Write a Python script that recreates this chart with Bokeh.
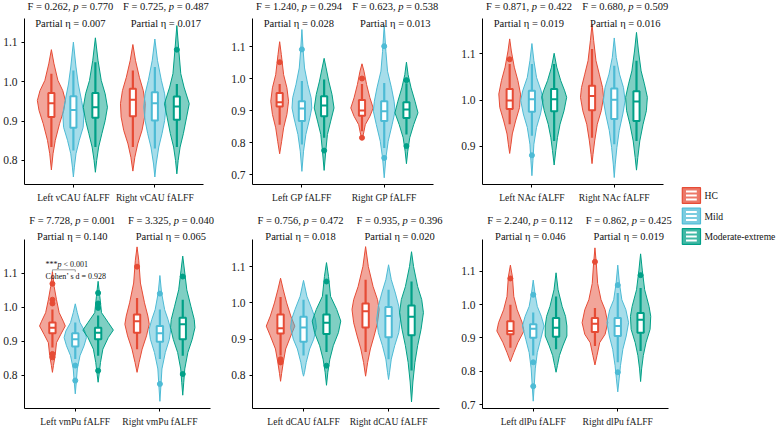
from bokeh.plotting import figure
from bokeh.layouts import row, column
from bokeh.models import Range1d, FixedTicker, NumeralTickFormatter
from bokeh.core.properties import value
from bokeh.embed import file_html
from bokeh.resources import INLINE

# ---------------- data ----------------
GROUPS = ["HC", "Mild", "Moderate-extreme"]
COLORS = ["#E64B35", "#4DBBD5", "#00A087"]

REGIONS = [
    ["Left vCAU fALFF", "Right vCAU fALFF"],
    ["Left GP fALFF", "Right GP fALFF"],
    ["Left NAc fALFF", "Right NAc fALFF"],
    ["Left vmPu fALFF", "Right vmPu fALFF"],
    ["Left dCAU fALFF", "Right dCAU fALFF"],
    ["Left dlPu fALFF", "Right dlPu fALFF"],
]
F_VALUES = [["0.262", "0.725"], ["1.240", "0.623"], ["0.871", "0.680"],
            ["7.728", "3.325"], ["0.756", "0.935"], ["2.240", "0.862"]]
P_VALUES = [["0.770", "0.487"], ["0.294", "0.538"], ["0.422", "0.509"],
            ["0.001", "0.040"], ["0.472", "0.396"], ["0.112", "0.425"]]
ETA_VALUES = [["0.007", "0.017"], ["0.028", "0.013"], ["0.019", "0.016"],
              ["0.140", "0.065"], ["0.018", "0.020"], ["0.046", "0.019"]]
Y_TICKS = [[0.8, 0.9, 1.0, 1.1], [0.7, 0.8, 0.9, 1.0, 1.1], [0.9, 1.0, 1.1],
           [0.8, 0.9, 1.0, 1.1], [0.8, 0.9, 1.0, 1.1], [0.7, 0.8, 0.9, 1.0, 1.1]]

# violin outlines: knots (value, half-width) per violin,
# order in each panel: Left HC, Left Mild, Left Mod-ext, Right HC, Right Mild, Right Mod-ext
VIOLIN_Y = [
    [[0.776, 0.817, 0.851, 0.893, 0.927, 0.952, 0.977, 1.003, 1.045, 1.081],
     [0.758, 0.783, 0.817, 0.851, 0.884, 0.918, 0.952, 0.994, 1.037, 1.100],
     [0.770, 0.800, 0.834, 0.868, 0.901, 0.935, 0.969, 1.003, 1.054, 1.111],
     [0.773, 0.808, 0.842, 0.876, 0.910, 0.944, 0.977, 1.011, 1.054, 1.094],
     [0.758, 0.791, 0.834, 0.868, 0.901, 0.935, 0.969, 1.003, 1.054, 1.108],
     [0.766, 0.800, 0.834, 0.868, 0.910, 0.944, 0.986, 1.020, 1.079, 1.142]],
    [[0.765, 0.804, 0.846, 0.888, 0.929, 0.971, 1.012, 1.075, 1.115],
     [0.710, 0.773, 0.825, 0.877, 0.908, 0.940, 0.981, 1.033, 1.085, 1.153],
     [0.713, 0.773, 0.825, 0.867, 0.908, 0.950, 0.992, 1.033, 1.063],
     [0.809, 0.830, 0.856, 0.882, 0.908, 0.940, 0.981, 1.023, 1.046],
     [0.690, 0.752, 0.804, 0.856, 0.898, 0.929, 0.971, 1.023, 1.085, 1.167],
     [0.734, 0.773, 0.815, 0.856, 0.893, 0.929, 0.971, 1.012, 1.051]],
    [[0.885, 0.905, 0.927, 0.955, 0.984, 1.013, 1.042, 1.071, 1.106, 1.132],
     [0.837, 0.869, 0.905, 0.941, 0.970, 0.999, 1.020, 1.049, 1.085, 1.122],
     [0.860, 0.891, 0.919, 0.948, 0.977, 1.006, 1.020, 1.042, 1.071, 1.101],
     [0.863, 0.883, 0.912, 0.948, 0.977, 1.006, 1.027, 1.056, 1.085, 1.128, 1.163],
     [0.833, 0.862, 0.898, 0.934, 0.970, 0.999, 1.027, 1.056, 1.092, 1.134],
     [0.849, 0.876, 0.912, 0.948, 0.977, 1.006, 1.035, 1.063, 1.106, 1.146]],
    [[0.809, 0.829, 0.858, 0.896, 0.921, 0.945, 0.959, 0.984, 1.022, 1.061, 1.105],
     [0.746, 0.780, 0.819, 0.858, 0.887, 0.911, 0.930, 0.955, 0.984, 1.010],
     [0.780, 0.804, 0.838, 0.877, 0.911, 0.933, 0.955, 0.984, 1.032, 1.076],
     [0.809, 0.838, 0.877, 0.916, 0.950, 0.974, 1.013, 1.071, 1.138, 1.177],
     [0.724, 0.770, 0.819, 0.867, 0.906, 0.935, 0.964, 0.993, 1.042, 1.093],
     [0.742, 0.780, 0.819, 0.867, 0.906, 0.940, 0.964, 1.003, 1.051, 1.109, 1.150]],
    [[0.784, 0.805, 0.836, 0.873, 0.909, 0.936, 0.964, 1.000, 1.036, 1.068],
     [0.798, 0.809, 0.836, 0.873, 0.900, 0.932, 0.955, 0.982, 1.018, 1.062],
     [0.773, 0.809, 0.845, 0.882, 0.918, 0.950, 0.982, 1.018, 1.073, 1.111],
     [0.798, 0.836, 0.873, 0.909, 0.945, 0.982, 1.009, 1.045, 1.100, 1.155],
     [0.789, 0.809, 0.845, 0.882, 0.918, 0.955, 0.991, 1.027, 1.064, 1.105],
     [0.727, 0.782, 0.836, 0.882, 0.927, 0.973, 1.009, 1.045, 1.100, 1.141]],
    [[0.829, 0.856, 0.886, 0.921, 0.946, 0.985, 1.025, 1.084, 1.119],
     [0.710, 0.757, 0.807, 0.856, 0.896, 0.936, 0.965, 0.995, 1.035, 1.074],
     [0.797, 0.817, 0.847, 0.876, 0.906, 0.936, 0.965, 0.995, 1.045, 1.096],
     [0.819, 0.847, 0.886, 0.911, 0.946, 0.985, 1.015, 1.064, 1.124, 1.171],
     [0.738, 0.777, 0.817, 0.866, 0.906, 0.946, 0.985, 1.015, 1.064, 1.119],
     [0.769, 0.807, 0.847, 0.886, 0.926, 0.965, 0.995, 1.045, 1.104, 1.153]],
]
VIOLIN_W = [
    [[0, .020, .048, .100, .152, .172, .140, .080, .032, 0],
     [0, .012, .032, .072, .120, .130, .100, .060, .032, 0],
     [0, .016, .040, .080, .120, .148, .120, .072, .032, 0],
     [0, .024, .060, .112, .144, .152, .128, .080, .032, 0],
     [0, .016, .048, .088, .120, .136, .120, .080, .032, 0],
     [0, .016, .040, .080, .120, .152, .088, .048, .024, 0]],
    [[0, .024, .048, .088, .108, .088, .048, .020, 0],
     [0, .020, .048, .096, .120, .112, .072, .032, .016, 0],
     [0, .020, .040, .080, .120, .096, .056, .024, 0],
     [0, .020, .040, .096, .136, .096, .056, .024, 0],
     [0, .020, .048, .096, .132, .120, .088, .040, .020, 0],
     [0, .016, .040, .088, .140, .104, .056, .020, 0]],
    [[0, .016, .032, .072, .120, .132, .100, .056, .020, 0],
     [0, .012, .024, .056, .104, .136, .112, .056, .024, 0],
     [0, .020, .040, .072, .120, .152, .128, .080, .032, 0],
     [0, .012, .032, .064, .112, .140, .128, .088, .048, .020, 0],
     [0, .012, .032, .060, .104, .132, .112, .064, .024, 0],
     [0, .016, .040, .080, .120, .132, .096, .056, .024, 0]],
    [[0, .012, .032, .048, .100, .152, .128, .080, .048, .020, 0],
     [0, .012, .024, .056, .104, .132, .112, .056, .024, 0],
     [0, .012, .028, .056, .120, .180, .120, .040, .020, 0],
     [0, .024, .060, .112, .144, .128, .088, .040, .020, 0],
     [0, .012, .024, .064, .112, .128, .096, .056, .020, 0],
     [0, .012, .024, .060, .112, .144, .136, .096, .048, .020, 0]],
    [[0, .012, .032, .060, .120, .168, .120, .072, .032, 0],
     [0, .012, .032, .072, .120, .152, .140, .100, .040, 0],
     [0, .016, .040, .080, .140, .168, .120, .048, .024, 0],
     [0, .024, .056, .100, .140, .160, .140, .088, .032, 0],
     [0, .012, .032, .072, .120, .140, .120, .080, .032, 0],
     [0, .016, .040, .072, .112, .140, .120, .072, .024, 0]],
    [[0, .040, .088, .160, .140, .080, .040, .024, 0],
     [0, .012, .024, .048, .088, .128, .096, .048, .020, 0],
     [0, .016, .040, .080, .128, .128, .112, .072, .024, 0],
     [0, .024, .056, .120, .152, .120, .072, .032, .016, 0],
     [0, .016, .032, .060, .100, .128, .096, .048, .020, 0],
     [0, .012, .032, .064, .112, .120, .100, .048, .020, 0]],
]

BOX_Q1 = [[0.910, 0.883, 0.908, 0.912, 0.901, 0.903],
          [0.913, 0.867, 0.882, 0.884, 0.867, 0.877],
          [0.981, 0.975, 0.976, 0.978, 0.959, 0.955],
          [0.924, 0.885, 0.906, 0.925, 0.899, 0.906],
          [0.916, 0.893, 0.914, 0.932, 0.905, 0.911],
          [0.911, 0.901, 0.904, 0.918, 0.906, 0.916]]
BOX_MED = [[0.945, 0.928, 0.935, 0.954, 0.945, 0.937],
           [0.926, 0.906, 0.916, 0.900, 0.898, 0.903],
           [0.999, 1.002, 1.002, 1.009, 1.001, 0.997],
           [0.940, 0.906, 0.925, 0.959, 0.924, 0.950],
           [0.930, 0.932, 0.945, 0.977, 0.964, 0.962],
           [0.921, 0.928, 0.931, 0.943, 0.936, 0.955]]
BOX_Q3 = [[0.971, 0.963, 0.971, 0.982, 0.973, 0.962],
          [0.955, 0.929, 0.945, 0.933, 0.929, 0.926],
          [1.024, 1.020, 1.024, 1.031, 1.025, 1.019],
          [0.955, 0.924, 0.940, 0.979, 0.945, 0.969],
          [0.968, 0.962, 0.968, 0.998, 0.989, 0.993],
          [0.950, 0.941, 0.960, 0.960, 0.960, 0.975]]
WHISK_LO = [[0.834, 0.825, 0.834, 0.834, 0.830, 0.834],
            [0.856, 0.794, 0.815, 0.835, 0.783, 0.825],
            [0.948, 0.923, 0.912, 0.919, 0.905, 0.912],
            [0.882, 0.848, 0.858, 0.877, 0.848, 0.858],
            [0.855, 0.855, 0.865, 0.865, 0.845, 0.814],
            [0.871, 0.847, 0.866, 0.876, 0.827, 0.861]]
WHISK_HI = [[1.020, 1.028, 1.049, 1.028, 1.037, 0.994],
            [0.983, 0.992, 0.997, 0.983, 0.986, 0.985],
            [1.078, 1.078, 1.078, 1.110, 1.074, 1.085],
            [0.993, 0.955, 0.976, 1.027, 0.993, 1.022],
            [1.016, 1.009, 1.023, 1.064, 1.036, 1.059],
            [1.000, 0.977, 1.025, 0.990, 1.035, 1.050]]
OUTLIERS = [
    [[], [], [], [], [], [1.081]],
    [[1.051], [1.091], [0.775], [0.815, 1.000], [0.752, 1.101], [0.789, 0.995]],
    [[1.088], [0.881], [], [], [], []],
    [[0.853, 0.863, 1.011, 1.022, 1.069], [0.785, 0.829], [0.814, 0.998, 1.011, 1.042],
     [1.119], [0.775, 1.040], [0.804, 1.090]],
    [[0.836, 0.845], [], [0.827, 1.059], [], [], []],
    [[1.079], [0.755, 0.827, 1.030], [], [1.129], [0.797, 1.059], [1.089]],
]
POSTHOC_PANEL = 3
POSTHOC_P = "< 0.001"
COHEN_D = "0.928"

# ---------------- layout / style ----------------
FONT = "Liberation Serif"
DODGE = 0.27
BOX_W = 0.075
X_AXIS = (0.4, 2.6)
# canvas size, space left/top for axis labels, right margin, bottom for x labels,
# and the y interval covered by the drawn y axis line
PANEL_GEOM = [
    dict(w=228, h=210, l=22, r=25, t=18, b=26, y=(0.739, 1.160)),
    dict(w=230, h=210, l=23, r=25, t=18, b=26, y=(0.669, 1.1875)),
    dict(w=222, h=210, l=22, r=17, t=18, b=26, y=(0.818, 1.176)),
    dict(w=228, h=219, l=22, r=18, t=29, b=19, y=(0.703, 1.1995)),
    dict(w=230, h=219, l=23, r=19, t=29, b=19, y=(0.709, 1.1755)),
    dict(w=222, h=219, l=24, r=12, t=29, b=19, y=(0.688, 1.197)),
]
TEXT_DY = [(-12.0, 4.7), (-19.3, -2.6)]   # px below axis top for F line / eta line
TEXT_DX = [-3, 11]                          # px shift from region tick
FS = 10.5


def style_axes(p, ticks, labels, ybounds):
    p.xgrid.visible = False
    p.ygrid.visible = False
    p.outline_line_color = None
    p.xaxis.ticker = FixedTicker(ticks=[1, 2], minor_ticks=[])
    p.xaxis.major_label_overrides = {1: labels[0], 2: labels[1]}
    p.xaxis.bounds = X_AXIS
    p.yaxis.ticker = FixedTicker(ticks=ticks, minor_ticks=[])
    p.yaxis.formatter = NumeralTickFormatter(format="0.0")
    p.yaxis.bounds = ybounds
    for ax in (p.xaxis, p.yaxis):
        ax.axis_line_color = "#000000"
        ax.axis_line_width = 1
        ax.major_tick_line_color = "#000000"
        ax.major_tick_in = 0
        ax.major_tick_out = 3
        ax.minor_tick_line_color = None
        ax.major_label_text_font = FONT
        ax.major_label_text_color = "#222222"
        ax.major_label_standoff = 4
    p.xaxis.major_label_text_font_size = "9.6px"
    p.yaxis.major_label_text_font_size = "11.5px"


def txt(p, x, y, text, dx, align, style="normal", size=FS):
    p.text(x=[x], y=[y], text=[text], x_offset=dx, text_align=align,
           text_baseline="middle", text_font=value(FONT), text_font_size=f"{size}px",
           text_font_style=style, text_color="#111111")


def make_panel(i):
    g = PANEL_GEOM[i]
    y0, y1 = g["y"]
    axis_w = g["w"] - g["l"] - g["r"]
    axis_h = g["h"] - g["t"] - g["b"]
    sx = (X_AXIS[1] - X_AXIS[0]) / axis_w
    sy = (y1 - y0) / axis_h
    # the frame reaches the canvas top and right edge; the axes are bounded
    p = figure(width=g["w"], height=g["h"],
               x_range=Range1d(X_AXIS[0], X_AXIS[1] + g["r"] * sx),
               y_range=Range1d(y0, y1 + g["t"] * sy),
               output_backend="svg", toolbar_location=None,
               min_border_left=g["l"], min_border_right=0,
               min_border_top=0, min_border_bottom=g["b"])
    style_axes(p, Y_TICKS[i], REGIONS[i], (y0, y1))

    centers = [(k // 3) + 1 + (k % 3 - 1) * DODGE for k in range(6)]
    cols = [COLORS[k % 3] for k in range(6)]

    # violins
    for k in range(6):
        ys, ws, cx = VIOLIN_Y[i][k], VIOLIN_W[i][k], centers[k]
        xs = [cx + w for w in ws] + [cx - w for w in reversed(ws)]
        yy = list(ys) + list(reversed(ys))
        p.patch(xs, yy, fill_color=cols[k], fill_alpha=0.5, line_color=cols[k], line_width=1)

    # whiskers
    p.segment(x0=centers, y0=WHISK_LO[i], x1=centers, y1=WHISK_HI[i],
              line_color=cols, line_width=2.2)
    # boxes
    p.quad(left=[c - BOX_W / 2 for c in centers], right=[c + BOX_W / 2 for c in centers],
           bottom=BOX_Q1[i], top=BOX_Q3[i], fill_color="white", line_color=cols, line_width=2)
    # medians
    p.segment(x0=[c - BOX_W / 2 for c in centers], y0=BOX_MED[i],
              x1=[c + BOX_W / 2 for c in centers], y1=BOX_MED[i],
              line_color=cols, line_width=2)
    # outliers
    ox, oy, oc = [], [], []
    for k in range(6):
        for v in OUTLIERS[i][k]:
            ox.append(centers[k]); oy.append(v); oc.append(cols[k])
    if ox:
        p.scatter(ox, oy, size=5, fill_color=oc, line_color=oc)

    # statistics text
    rw = i // 3
    yF = y1 - TEXT_DY[rw][0] * sy
    yP = y1 - TEXT_DY[rw][1] * sy
    T = 8.18 * FS
    for r in range(2):
        ax = r + 1
        c = TEXT_DX[r]
        start = c - T / 2
        txt(p, ax, yF, f"F = {F_VALUES[i][r]},", start + 4.12 * FS, "right")
        txt(p, ax, yF, "p", start + 4.37 * FS, "left", "italic")
        txt(p, ax, yF, f"= {P_VALUES[i][r]}", start + 5.12 * FS, "left")
        txt(p, ax, yP, f"Partial \u03b7 = {ETA_VALUES[i][r]}", c, "center")

    # post-hoc annotation
    if i == POSTHOC_PANEL:
        xa, xb = centers[0], centers[1]
        yb = y1 - (TEXT_DY[rw][1] + 33.5) * sy
        tick = 2.0 * sy
        p.segment(x0=[xa, xa, xb], y0=[yb, yb, yb], x1=[xb, xa, xb],
                  y1=[yb, yb - tick, yb - tick], line_color="#9a9a9a", line_width=1)
        ys1 = yb + 5 * sy
        ys2 = yb - 6.5 * sy
        f2 = 8
        txt(p, xa, ys1, "***", -7, "left", size=f2)
        txt(p, xa, ys1, "p", -7 + 1.5 * f2, "left", "italic", size=f2)
        txt(p, xa, ys1, POSTHOC_P, -7 + 2.25 * f2, "left", size=f2)
        txt(p, xa, ys2, f"Cohen\u2019 s d = {COHEN_D}", -7, "left", size=f2)
    return p


panels = [make_panel(i) for i in range(6)]

# legend
leg = figure(width=97, height=429, x_range=Range1d(0, 97), y_range=Range1d(429, 0),
             output_backend="svg", toolbar_location=None, min_border=0)
leg.axis.visible = False
leg.grid.visible = False
leg.outline_line_color = None
KEY_Y = [195, 215.5, 236]
for j, col in enumerate(COLORS):
    cy = KEY_Y[j]
    leg.quad(left=[1.8], right=[20], top=[cy - 7.8], bottom=[cy + 7.8],
             fill_color=col, fill_alpha=0.75, line_color=col, line_width=1.2)
    leg.segment(x0=[5.5] * 3, x1=[16.3] * 3, y0=[cy - 4, cy, cy + 4], y1=[cy - 4, cy, cy + 4],
                line_color="white", line_width=1.8)
leg.text(x=[24] * 3, y=KEY_Y, text=GROUPS, text_font=value(FONT), text_font_size="9.6px",
         text_baseline="middle", text_align="left", text_color="#111111")

layout = row(column(row(*panels[:3]), row(*panels[3:])), leg)
open("out.html", "w").write(file_html(layout, INLINE))
